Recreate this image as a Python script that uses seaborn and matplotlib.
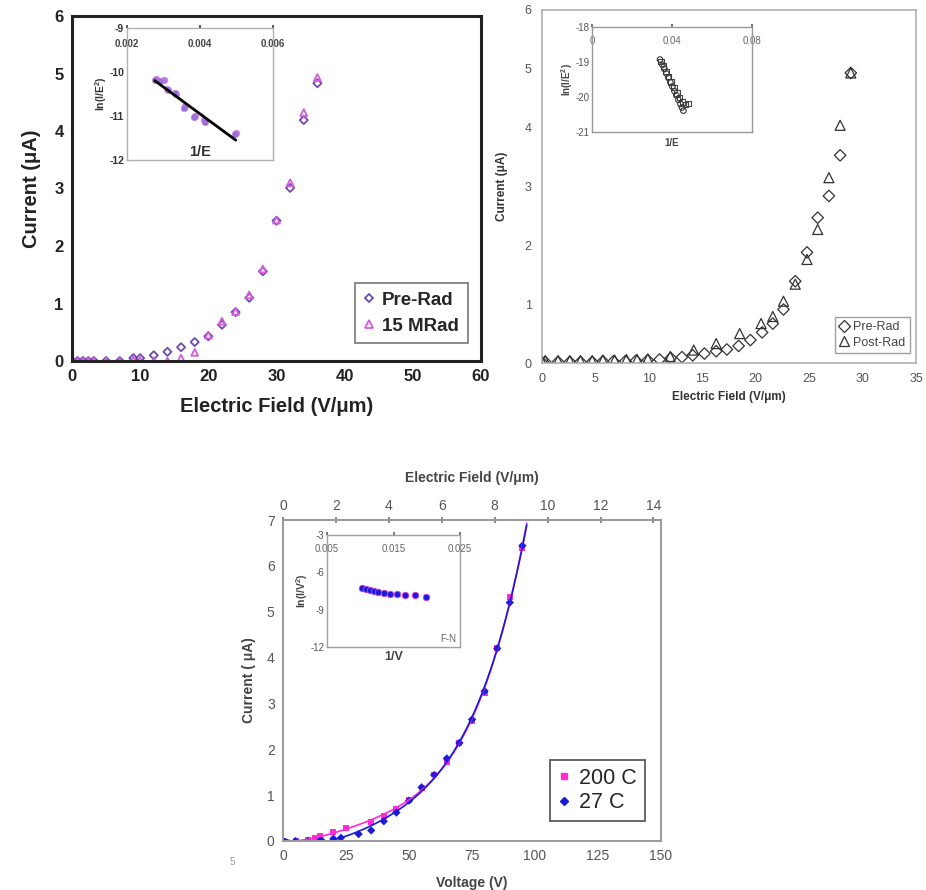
import numpy as np
import pandas as pd
import seaborn as sns
import matplotlib.pyplot as plt
from matplotlib.lines import Line2D

sns.set_theme(style="white")
plt.rcParams['font.family'] = ['Liberation Sans', 'DejaVu Sans']
plt.rcParams['mathtext.fontset'] = 'custom'
plt.rcParams['mathtext.rm'] = 'Liberation Sans'
plt.rcParams['mathtext.bf'] = 'Liberation Sans:bold'
plt.rcParams['axes.unicode_minus'] = False

# ---------------- Panel A data (top-left) ----------------
a_field = [0, 0.8, 1.6, 2.4, 3.2, 5, 7, 9, 10, 12, 14, 16, 18, 20, 22, 24, 26, 28, 30, 32, 34, 36]
a_pre = [0, 0, 0, 0, 0, 0, 0, 0.05, 0.05, 0.10, 0.16, 0.24, 0.33, 0.43, 0.63, 0.85, 1.10, 1.56, 2.44, 3.01, 4.19, 4.83]
a_post = [0, 0, 0, 0, 0, 0, 0, 0.02, 0.01, 0, 0, 0.05, 0.15, 0.45, 0.69, 0.86, 1.15, 1.60, 2.45, 3.10, 4.32, 4.93]
a_labels = ["Pre-Rad", "15 MRad"]

a_inv_pre = [0.00276, 0.0029, 0.00313, 0.00331, 0.00356, 0.00383, 0.00414, 0.00496]
a_ln_pre = [-10.19, -10.20, -10.42, -10.48, -10.82, -11.03, -11.13, -11.42]
a_inv_post = [0.00280, 0.0030, 0.00310, 0.00335, 0.00358, 0.00386, 0.00412, 0.00498]
a_ln_post = [-10.17, -10.19, -10.38, -10.50, -10.78, -11.00, -11.10, -11.38]

# ---------------- Panel B data (top-right) ----------------
b_pre_x = [0, 0.3, 1.5, 2.6, 3.6, 4.7, 5.7, 6.7, 7.8, 8.8, 9.9, 11.0, 12.05, 13.1, 14.1, 15.2,
           16.3, 17.3, 18.4, 19.5, 20.6, 21.6, 22.6, 23.7, 24.8, 25.8, 26.85, 27.9, 28.9]
b_pre_y = [0.01, 0.02, 0.02, 0.02, 0.02, 0.02, 0.03, 0.03, 0.03, 0.04, 0.05, 0.06, 0.085, 0.10,
           0.13, 0.16, 0.20, 0.23, 0.29, 0.39, 0.52, 0.67, 0.91, 1.39, 1.88, 2.47, 2.84, 3.53, 4.93]
b_post_x = [0, 0.3, 1.5, 2.6, 3.6, 4.7, 5.7, 6.8, 7.9, 8.9, 9.9, 12.0, 14.2, 16.3, 18.5, 20.5,
            21.6, 22.6, 23.7, 24.8, 25.8, 26.85, 27.9, 28.9]
b_post_y = [0.03, 0.04, 0.04, 0.04, 0.04, 0.04, 0.05, 0.05, 0.06, 0.06, 0.07, 0.11, 0.22, 0.33,
            0.50, 0.67, 0.79, 1.05, 1.34, 1.76, 2.27, 3.15, 4.04, 4.93]
b_labels = ["Pre-Rad", "Post-Rad"]

b_inv_c = [0.0340, 0.0352, 0.0362, 0.0372, 0.0382, 0.0392, 0.0402, 0.0412, 0.0422, 0.0432, 0.0442, 0.0450, 0.0457]
b_ln_c = [-18.93, -19.08, -19.20, -19.33, -19.45, -19.58, -19.70, -19.83, -19.95, -20.08, -20.20, -20.30, -20.39]
b_inv_s = [0.0345, 0.0358, 0.0370, 0.0383, 0.0396, 0.0410, 0.0424, 0.0438, 0.0452, 0.0468, 0.0482]
b_ln_s = [-18.98, -19.12, -19.27, -19.42, -19.57, -19.73, -19.88, -20.02, -20.15, -20.22, -20.18]

# ---------------- Panel C data (bottom) ----------------
c_v_200 = [0, 5, 10, 12.8, 14.8, 20, 25, 35, 40, 45, 50, 55, 60, 65, 70, 75, 80, 85, 90, 95]
c_i_200 = [0, 0, 0.02, 0.07, 0.12, 0.19, 0.29, 0.41, 0.55, 0.70, 0.89, 1.16, 1.45, 1.73, 2.14, 2.62, 3.22, 4.20, 5.33, 6.38]
c_v_27 = [0, 5, 10, 15, 20, 23, 30, 35, 40, 45, 50, 55, 60, 65, 70, 75, 80, 85, 90, 95]
c_i_27 = [0, 0, 0, 0.03, 0.05, 0.07, 0.15, 0.23, 0.43, 0.62, 0.88, 1.17, 1.44, 1.80, 2.14, 2.65, 3.27, 4.20, 5.20, 6.44]
c_labels = ["200 C", "27 C"]
c_inv_v = [0.01025, 0.0108, 0.0114, 0.0120, 0.0127, 0.0135, 0.0144, 0.0155, 0.0168, 0.0183, 0.0199]
c_ln = [-7.22, -7.30, -7.38, -7.48, -7.56, -7.65, -7.72, -7.76, -7.80, -7.84, -7.95]
gap_um = 10.5  # voltage -> field conversion for top axis

# colours
A_PRE = "#6a4cb4"
A_POST = "#d65ae0"
C_MAG = "#ff2bd6"
C_BLUE = "#1a1ad8"

fig = plt.figure(figsize=(9.26, 8.9), dpi=100)

def fpos(l, t, r, b):
    W, H = 926.0, 890.0
    return [l / W, 1 - b / H, (r - l) / W, (b - t) / H]

def hollow(ax, start, color):
    for coll in ax.collections[start:]:
        coll.set_edgecolor(color)
        coll.set_facecolor("none")

# ======================= Panel A =======================
axA = fig.add_axes(fpos(72, 16, 481, 361))
n0 = len(axA.collections)
sns.scatterplot(x=a_field, y=a_pre, marker="D", s=17, color=A_PRE, linewidth=1.3, ax=axA)
hollow(axA, n0, A_PRE)
n0 = len(axA.collections)
sns.scatterplot(x=a_field, y=a_post, marker="^", s=24, color=A_POST, linewidth=1.3, ax=axA)
hollow(axA, n0, A_POST)
axA.set_xlim(0, 60)
axA.set_ylim(0, 6)
axA.set_xticks(range(0, 61, 10))
axA.set_yticks(range(0, 7))
for s in axA.spines.values():
    s.set_color("#222222")
    s.set_linewidth(2.2)
axA.tick_params(axis="both", labelsize=12, length=0, pad=6, colors="#222222")
for lab in axA.get_xticklabels() + axA.get_yticklabels():
    lab.set_fontweight("bold")
axA.set_xlabel("Electric Field (V/\u03bcm)", fontsize=14.5, fontweight="bold", color="#222222", labelpad=9)
axA.set_ylabel("Current (\u03bcA)", fontsize=14.5, fontweight="bold", color="#222222", labelpad=10)
hA = [Line2D([], [], ls="none", marker="D", ms=4.5, mfc="none", mec=A_PRE, mew=1.3),
      Line2D([], [], ls="none", marker="^", ms=5.5, mfc="none", mec=A_POST, mew=1.3)]
legA = axA.legend(hA, a_labels, loc="lower right", bbox_to_anchor=(0.99, 0.025),
                  frameon=True, fancybox=False, handlelength=0.6, handletextpad=0.4,
                  borderpad=0.45, labelspacing=0.45, prop={"weight": "bold", "size": 13.5})
legA.get_frame().set_edgecolor("#555555")
legA.get_frame().set_linewidth(1.2)

# Panel A inset
axAi = fig.add_axes(fpos(127, 28, 273, 160))
dfai = pd.DataFrame({"x": a_inv_pre + a_inv_post, "y": a_ln_pre + a_ln_post})
sns.scatterplot(x=a_inv_post, y=a_ln_post, color="#c070e8", edgecolor="#e070d0", s=22, ax=axAi)
sns.scatterplot(x=a_inv_pre, y=a_ln_pre, color="#9a70d8", edgecolor="#c080e0", s=22, ax=axAi)
sns.regplot(data=dfai, x="x", y="y", scatter=False, ci=None, color="black", line_kws={"lw": 2.0}, ax=axAi)
axAi.set_xlim(0.002, 0.006)
axAi.set_ylim(-12, -9)
axAi.set_xticks([0.002, 0.004, 0.006])
axAi.set_xticklabels(["0.002", "0.004", "0.006"])
axAi.set_yticks([-12, -11, -10, -9])
axAi.xaxis.set_ticks_position("top")
axAi.tick_params(axis="x", labeltop=True, labelbottom=False, pad=-17, labelsize=7, length=2,
                 direction="out", colors="#444444")
axAi.tick_params(axis="y", labelsize=7.5, length=0, pad=2, colors="#333333")
for lab in axAi.get_xticklabels() + axAi.get_yticklabels():
    lab.set_fontweight("bold")
for s in axAi.spines.values():
    s.set_color("#b0b0b0")
    s.set_linewidth(1.0)
axAi.set_xlabel("")
axAi.set_ylabel(r"ln(I/E$^{\mathbf{2}}$)", fontsize=7.5, fontweight="bold", color="#333333", labelpad=0)
axAi.text(0.5, 0.01, "1/E", transform=axAi.transAxes, ha="center", va="bottom",
          fontsize=10.5, fontweight="bold", color="#333333")

# ======================= Panel B =======================
axB = fig.add_axes(fpos(542, 10, 916, 363))
sns.scatterplot(x=b_pre_x, y=b_pre_y, marker="D", s=34, facecolors="none", edgecolor="#333333",
                linewidth=0.9, ax=axB)
sns.scatterplot(x=b_post_x, y=b_post_y, marker="^", s=52, facecolors="none", edgecolor="#333333",
                linewidth=0.9, ax=axB)
for coll in axB.collections:
    coll.set_facecolor("none")
axB.set_xlim(0, 35)
axB.set_ylim(0, 6)
axB.set_xticks(range(0, 36, 5))
axB.set_yticks(range(0, 7))
for s in axB.spines.values():
    s.set_color("#a8a8a8")
    s.set_linewidth(1.1)
axB.tick_params(axis="both", labelsize=9, length=3, direction="inout", colors="#666666", pad=6)
for lab in axB.get_xticklabels() + axB.get_yticklabels():
    lab.set_color("#555555")
axB.set_xlabel("Electric Field (V/\u03bcm)", fontsize=8.5, fontweight="bold", color="#333333", labelpad=4)
axB.set_ylabel("Current (\u03bcA)", fontsize=8.5, fontweight="bold", color="#333333", labelpad=12)
hB = [Line2D([], [], ls="none", marker="D", ms=6, mfc="none", mec="#333333", mew=0.9),
      Line2D([], [], ls="none", marker="^", ms=7.5, mfc="none", mec="#333333", mew=0.9)]
legB = axB.legend(hB, b_labels, loc="lower right", bbox_to_anchor=(1.0, 0.01), fontsize=9,
                  frameon=True, fancybox=False, handlelength=0.8, handletextpad=0.3,
                  borderpad=0.35, labelspacing=0.3)
legB.get_frame().set_edgecolor("#888888")
legB.get_frame().set_linewidth(1.0)
for t in legB.get_texts():
    t.set_color("#444444")

# Panel B inset
axBi = fig.add_axes(fpos(592, 27, 752, 132))
sns.scatterplot(x=b_inv_s, y=b_ln_s, marker="s", s=16, facecolors="none", edgecolor="#444444",
                linewidth=0.8, ax=axBi)
sns.scatterplot(x=b_inv_c, y=b_ln_c, marker="o", s=16, facecolors="none", edgecolor="#333333",
                linewidth=0.8, ax=axBi)
for coll in axBi.collections:
    coll.set_facecolor("none")
axBi.set_xlim(0, 0.08)
axBi.set_ylim(-21, -18)
axBi.set_xticks([0, 0.04, 0.08])
axBi.set_xticklabels(["0", "0.04", "0.08"])
axBi.set_yticks([-21, -20, -19, -18])
axBi.xaxis.set_ticks_position("top")
axBi.tick_params(axis="x", labeltop=True, labelbottom=False, pad=-16, labelsize=7, length=2,
                 colors="#666666")
axBi.tick_params(axis="y", labelsize=7, length=0, pad=2, colors="#555555")
for s in axBi.spines.values():
    s.set_color("#999999")
    s.set_linewidth(1.0)
axBi.set_ylabel(r"ln(I/E$^{\mathbf{2}}$)", fontsize=7, fontweight="bold", color="#444444", labelpad=0)
axBi.set_xlabel("1/E", fontsize=7, fontweight="bold", color="#444444", labelpad=4)

# ======================= Panel C =======================
axC = fig.add_axes(fpos(283, 520, 661, 841))
dfc = pd.DataFrame({"V": c_v_200 + c_v_27, "I": c_i_200 + c_i_27,
                    "T": [c_labels[0]] * len(c_v_200) + [c_labels[1]] * len(c_v_27)})
# polynomial trend lines fitted to the data
for v, i, col in [(c_v_200, c_i_200, C_MAG), (c_v_27, c_i_27, C_BLUE)]:
    coef = np.polyfit(v, i, 4)
    grid = np.linspace(0, 100, 400)
    fit = np.polyval(coef, grid)
    keep = (fit <= 6.95) & (grid >= 0)
    sns.lineplot(x=grid[keep], y=np.clip(fit[keep], 0, None), color=col, lw=1.2, ax=axC)
sns.scatterplot(data=dfc, x="V", y="I", hue="T", style="T",
                markers={c_labels[0]: "s", c_labels[1]: "D"},
                palette={c_labels[0]: C_MAG, c_labels[1]: C_BLUE}, s=18, linewidth=0, ax=axC, legend=False)
axC.set_xlim(0, 150)
axC.set_ylim(0, 7)
axC.set_xticks(range(0, 151, 25))
axC.set_yticks(range(0, 8))
for s in axC.spines.values():
    s.set_color("#9a9a9a")
    s.set_linewidth(1.4)
axC.tick_params(axis="both", labelsize=10, length=4, direction="inout", colors="#777777", pad=4)
for lab in axC.get_xticklabels() + axC.get_yticklabels():
    lab.set_color("#555555")
axC.set_xlabel("Voltage (V)", fontsize=10, fontweight="bold", color="#444444", labelpad=9)
axC.set_ylabel("Current ( \u03bcA)", fontsize=10, fontweight="bold", color="#444444", labelpad=8)
top = axC.secondary_xaxis("top", functions=(lambda x: x / gap_um, lambda f: f * gap_um))
top.set_xticks(range(0, 15, 2))
top.tick_params(labelsize=10, length=4, direction="inout", colors="#777777", pad=3)
for lab in top.get_xticklabels():
    lab.set_color("#555555")
top.spines["top"].set_color("#9a9a9a")
top.set_xlabel("Electric Field (V/\u03bcm)", fontsize=10, fontweight="bold", color="#444444", labelpad=12)
hC = [Line2D([], [], ls="none", marker="s", ms=5, mfc=C_MAG, mec=C_MAG),
      Line2D([], [], ls="none", marker="D", ms=4.5, mfc=C_BLUE, mec=C_BLUE)]
legC = axC.legend(hC, c_labels, loc="lower right", bbox_to_anchor=(0.985, 0.03), fontsize=15.5,
                  frameon=True, fancybox=False, handlelength=0.6, handletextpad=0.4,
                  borderpad=0.35, labelspacing=0.15)
legC.get_frame().set_edgecolor("#333333")
legC.get_frame().set_linewidth(1.3)

# Panel C inset
axCi = fig.add_axes(fpos(327, 535, 460, 647))
sns.scatterplot(x=c_inv_v, y=c_ln, color=C_BLUE, edgecolor="#d040e0", s=22, linewidth=0.6, ax=axCi)
axCi.set_xlim(0.005, 0.025)
axCi.set_ylim(-12, -3)
axCi.set_xticks([0.005, 0.015, 0.025])
axCi.set_xticklabels(["0.005", "0.015", "0.025"])
axCi.set_yticks([-12, -9, -6, -3])
axCi.xaxis.set_ticks_position("top")
axCi.tick_params(axis="x", labeltop=True, labelbottom=False, pad=-16, labelsize=7, length=2,
                 colors="#666666")
axCi.tick_params(axis="y", labelsize=7, length=0, pad=2, colors="#555555")
for s in axCi.spines.values():
    s.set_color("#a0a0a0")
    s.set_linewidth(1.0)
axCi.set_ylabel(r"ln(I/V$^{\mathbf{2}}$)", fontsize=7.5, fontweight="bold", color="#444444", labelpad=0)
axCi.set_xlabel("1/V", fontsize=9, fontweight="bold", color="#444444", labelpad=3)
axCi.text(0.97, 0.03, "F-N", transform=axCi.transAxes, ha="right", va="bottom",
          fontsize=7, color="#666666")

fig.text(232 / 926, 1 - 862 / 890, "5", fontsize=7, color="#999999", ha="center", va="center")

fig.savefig("out.png", dpi=100)
